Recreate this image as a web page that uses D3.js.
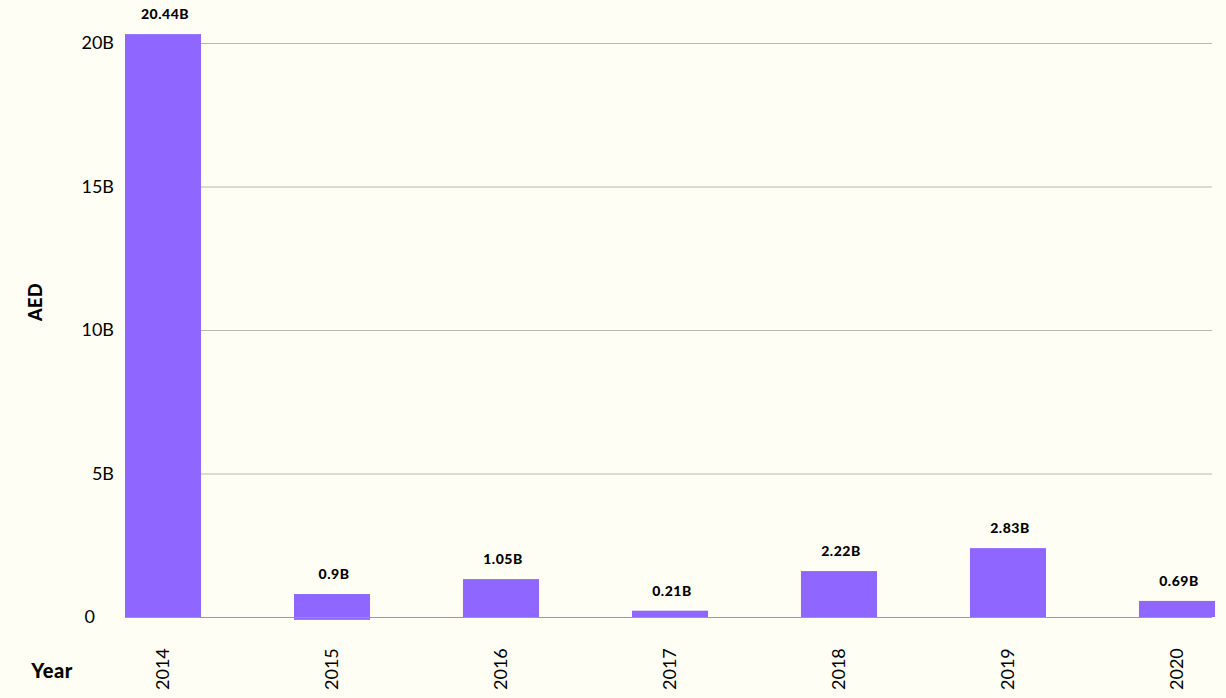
<!DOCTYPE html>
<html>
<head>
<meta charset="utf-8">
<script src="https://cdn.jsdelivr.net/npm/d3@7/dist/d3.min.js"></script>
<style>
  html, body { margin: 0; padding: 0; background: #fffef5; }
  svg { display: block; font-family: Lato, "Open Sans", sans-serif; }
</style>
</head>
<body>
<svg id="chart" width="1226" height="698"></svg>
<script>
const years = ["2014", "2015", "2016", "2017", "2018", "2019", "2020"];
// bar heights as drawn in the picture (billions AED)
const barValues = [20.31, 0.80, 1.32, 0.22, 1.60, 2.40, 0.56];
const barBases = [0, -0.1, 0, 0, 0, 0, 0];
// value labels printed above the bars
const valueLabels = ["20.44B", "0.9B", "1.05B", "0.21B", "2.22B", "2.83B", "0.69B"];
const yTicks = [0, 5, 10, 15, 20];
const yTickLabels = ["0", "5B", "10B", "15B", "20B"];

const svg = d3.select("#chart");
const x = d3.scaleBand().domain(years).range([125, 1215]).paddingInner(0.55).paddingOuter(0);
const y = d3.scaleLinear().domain([0, 20]).range([617, 43]);

// gridlines
svg.append("g").selectAll("line").data(yTicks.filter(d => d > 0)).join("line")
  .attr("x1", 125).attr("x2", 1212)
  .attr("y1", d => y(d) + 0.5).attr("y2", d => y(d) + 0.5)
  .attr("stroke", "#b8b8b0").attr("stroke-width", 1);

// bars
svg.append("g").selectAll("rect").data(years).join("rect")
  .attr("x", d => x(d))
  .attr("width", x.bandwidth())
  .attr("y", (d, i) => y(barValues[i]))
  .attr("height", (d, i) => y(barBases[i]) - y(barValues[i]))
  .attr("fill", "#8f66ff");

// baseline
svg.append("line")
  .attr("x1", 125).attr("x2", 1212)
  .attr("y1", y(0) + 0.5).attr("y2", y(0) + 0.5)
  .attr("stroke", "#9a9a96").attr("stroke-width", 1.2);

// value labels
svg.append("g").selectAll("text").data(years).join("text")
  .attr("x", d => x(d) + x.bandwidth() / 2 + 2)
  .attr("y", (d, i) => y(barValues[i]) - 15)
  .attr("text-anchor", "middle")
  .attr("font-size", 14)
  .attr("font-weight", 900)
  .attr("letter-spacing", 0.5)
  .attr("fill", "#000")
  .text((d, i) => valueLabels[i]);

// y tick labels
svg.append("g").selectAll("text").data(yTicks).join("text")
  .attr("x", d => d === 0 ? 95 : 114)
  .attr("y", d => y(d) + 6)
  .attr("text-anchor", "end")
  .attr("font-size", 18)
  .attr("fill", "#000")
  .text((d, i) => yTickLabels[i]);

// x tick labels (rotated)
svg.append("g").selectAll("text").data(years).join("text")
  .attr("transform", d => `translate(${x(d) + x.bandwidth() / 2 + 6},690) rotate(-90)`)
  .attr("text-anchor", "start")
  .attr("font-size", 18)
  .attr("fill", "#000")
  .text(d => d);

// axis titles
svg.append("text")
  .attr("transform", "translate(42,302) rotate(-90)")
  .attr("text-anchor", "middle")
  .attr("font-size", 18)
  .attr("font-weight", 900)
  .attr("letter-spacing", 0.5)
  .text("AED");

svg.append("text")
  .attr("x", 52).attr("y", 678)
  .attr("text-anchor", "middle")
  .attr("font-size", 20)
  .attr("font-weight", 900)
  .attr("letter-spacing", 0.5)
  .text("Year");
</script>
</body>
</html>
